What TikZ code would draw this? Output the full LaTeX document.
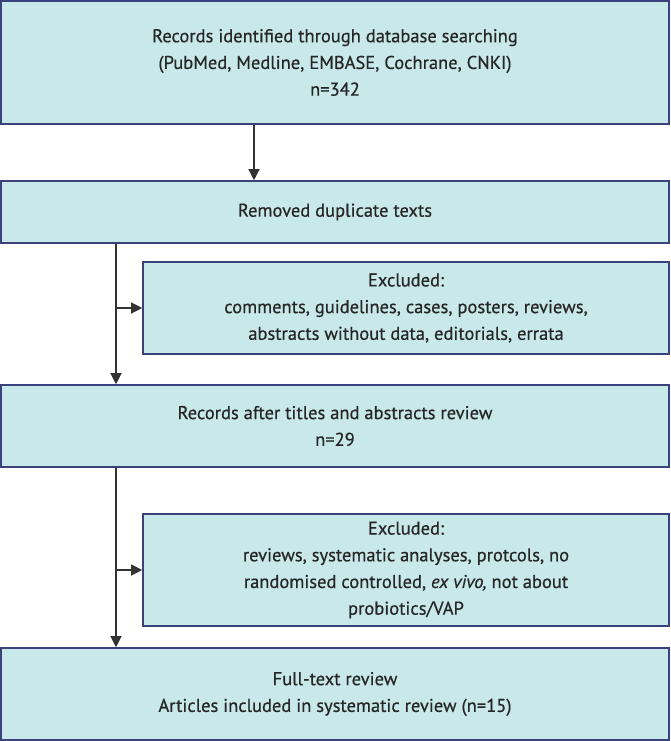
\documentclass[tikz,border=0pt]{standalone}
\usepackage{fontspec}
\setmainfont{PT Sans}[FakeBold=0.5]
\usetikzlibrary{arrows.meta}
\definecolor{boxfill}{RGB}{200,232,234}
\definecolor{boxline}{RGB}{58,66,124}
\definecolor{linegray}{RGB}{51,51,51}
\tikzset{
  stage/.style={draw=boxline, fill=boxfill, line width=1.6pt, align=center,
    minimum width=668pt, inner sep=0pt, text=black!85,
    font=\fontsize{18.5}{26.7}\selectfont},
  excl/.style={stage, minimum width=526pt},
  arr/.style={draw=linegray, line width=1.3pt, -{Triangle[length=11pt,width=11pt]}},
}
\begin{document}
\begin{tikzpicture}[x=1pt, y=-1pt]
      \useasboundingbox (0,0) rectangle (670,741);
      % boxes
      \node[stage, minimum height=123pt] (ident) at (335,62.5) {Records identified through database searching\\(PubMed, Medline, EMBASE, Cochrane, CNKI)\\n=342};
      \node[stage, minimum height=62pt] (dupl) at (335,212) {Removed duplicate texts};
      \node[excl, minimum height=92pt] (excla) at (406,308) {Excluded:\\comments, guidelines, cases, posters, reviews,\\abstracts without data, editorials, errata};
      \node[stage, minimum height=82pt] (screen) at (335,426) {Records after titles and abstracts review\\n=29};
      \node[excl, minimum height=112pt] (exclb) at (406,570) {Excluded:\\reviews, systematic analyses, protcols, no\\randomised controlled, \textit{ex vivo,} not about\\probiotics/VAP};
      \node[stage, minimum height=92pt] (incl) at (335,694) {Full-text review\\Articles included in systematic review (n=15)};
      % connectors
      \coordinate (topx) at (254,0);
      \coordinate (mainx) at (116,0);
      \draw[arr] (ident.south -| topx) -- (dupl.north -| topx);
      \draw[arr] (dupl.south -| mainx) -- (screen.north -| mainx);
      \draw[arr] (excla.west -| mainx) -- (excla.west);
      \draw[arr] (screen.south -| mainx) -- (incl.north -| mainx);
      \draw[arr] (exclb.west -| mainx) -- (exclb.west);
    \end{tikzpicture}
\end{document}
